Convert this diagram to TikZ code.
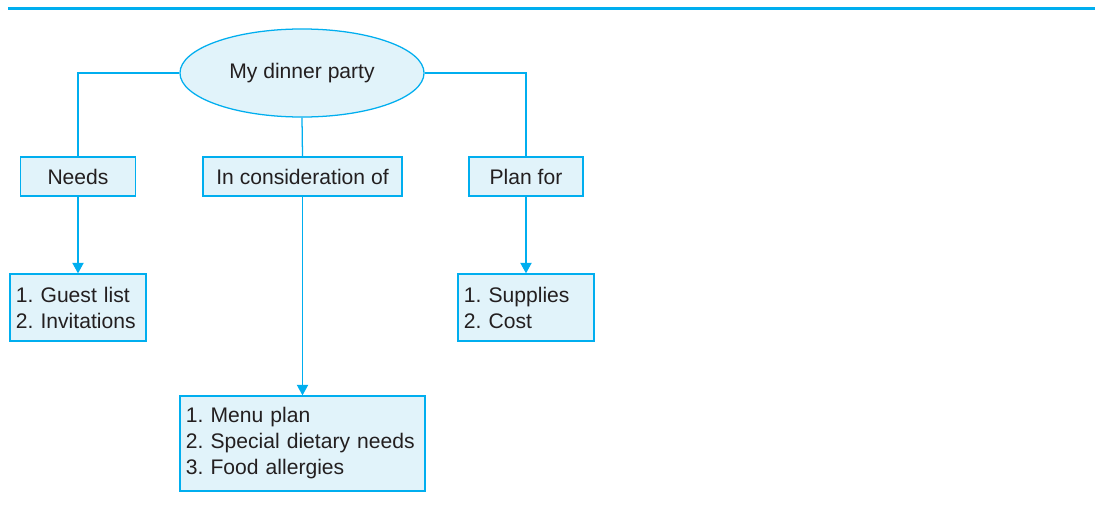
\documentclass[tikz,border=0pt]{standalone}
\usepackage{fontspec}
\setmainfont{Liberation Sans}
\usepackage{xcolor}
\usepackage{tikz}
\usetikzlibrary{positioning, arrows.meta, shapes.geometric}
\definecolor{mapline}{HTML}{00AEEF}
\definecolor{mapfill}{HTML}{E1F3FA}
\definecolor{maptext}{HTML}{231F20}
\frenchspacing

\tikzset{
  topic/.style={ellipse, draw=mapline, fill=mapfill, line width=0.9pt,
    minimum width=6.1cm, minimum height=2.2cm, inner sep=0pt},
  headbox/.style={draw=mapline, fill=mapfill, line width=0.9pt,
    minimum height=0.975cm, inner sep=0pt},
  listbox/.style={draw=mapline, fill=mapfill, line width=0.9pt,
    align=left, inner xsep=0.15cm, inner ysep=0pt},
  link/.style={draw=mapline, line width=0.9pt},
  linkarrow/.style={link, -{Triangle[width=8pt, length=7.5pt]}}
}

\begin{document}
\begin{tikzpicture}[x=0.025cm, y=-0.025cm,
    every node/.style={text=maptext, font=\fontsize{15}{18.5}\selectfont}]
  \useasboundingbox (0,0) rectangle (1095,520);
  \draw[mapline, line width=2pt] (8,8.5) -- (1095,8.5);

  \node[topic] (party) at (302,73) {My dinner party};
  \node[headbox, minimum width=2.875cm] (needs) at (78,176.5) {Needs};
  \node[headbox, minimum width=4.975cm] (consider) at (302.5,176.5) {In consideration of};
  \node[headbox, minimum width=2.85cm] (plan) at (526,176.5) {Plan for};

  \node[listbox, text width=3.1cm, minimum height=1.675cm] (guests) at (78,307.5)
    {1. Guest list\\2. Invitations};
  \node[listbox, text width=5.825cm, minimum height=2.375cm] (menu) at (302.5,443.5)
    {1. Menu plan\\2. Special dietary needs\\3. Food allergies};
  \node[listbox, text width=3.1cm, minimum height=1.675cm] (supplies) at (526,307.5)
    {1. Supplies\\2. Cost};

  \draw[link] (party.west) -| (needs.north);
  \draw[link] (party.south) -- (consider.north);
  \draw[link] (party.east) -| (plan.north);
  \draw[linkarrow] (needs.south) -- (guests.north);
  \draw[linkarrow] (consider.south) -- (menu.north);
  \draw[linkarrow] (plan.south) -- (supplies.north);
\end{tikzpicture}
\end{document}
